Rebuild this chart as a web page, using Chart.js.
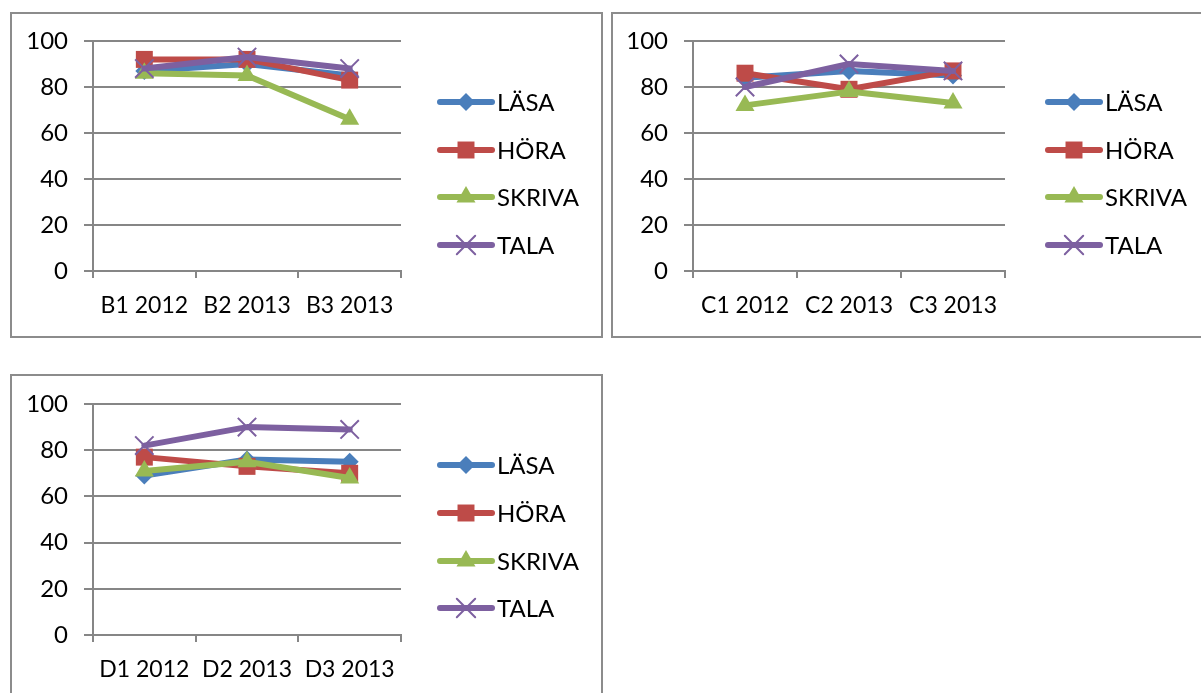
<!DOCTYPE html>
<html>
<head>
<meta charset="utf-8">
<script src="https://cdn.jsdelivr.net/npm/chart.js@4/dist/chart.umd.min.js"></script>
<style>
  html, body { margin: 0; padding: 0; background: #fff; width: 1201px; height: 693px; overflow: hidden; }
  .box { position: absolute; border: 2px solid #8c8c8c; box-sizing: border-box; }
  canvas { position: absolute; left: 0; top: 0; }
</style>
</head>
<body>
<div class="box" style="left:10px;top:12px;width:593px;height:326px;"></div>
<div class="box" style="left:611px;top:12px;width:600px;height:326px;"></div>
<div class="box" style="left:10px;top:374px;width:593px;height:330px;"></div>
<canvas id="c1" width="1201" height="693"></canvas>
<canvas id="c2" width="1201" height="693"></canvas>
<canvas id="c3" width="1201" height="693"></canvas>
<script>
// ---- data ----
const seriesNames = ['LÄSA', 'HÖRA', 'SKRIVA', 'TALA'];
const yTicks = [0, 20, 40, 60, 80, 100];

const catsB = ['B1 2012', 'B2 2013', 'B3 2013'];
const lasaB = [87, 90, 85];
const horaB = [92, 92, 83];
const skrivaB = [86, 85, 66];
const talaB = [88, 93, 88];

const catsC = ['C1 2012', 'C2 2013', 'C3 2013'];
const lasaC = [84, 87, 85];
const horaC = [86, 79, 87];
const skrivaC = [72, 78, 73];
const talaC = [80, 90, 87];

const catsD = ['D1 2012', 'D2 2013', 'D3 2013'];
const lasaD = [69, 76, 75];
const horaD = [77, 73, 70];
const skrivaD = [71, 75, 68];
const talaD = [82, 90, 89];

// ---- styles ----
const colors = ['#4a7ebb', '#be4b48', '#98b954', '#7d60a0'];
const pointStyles = ['rectRot', 'rect', 'triangle', 'crossRot'];
const pointRadii = [9, 12, 11, 13];
const gridColor = '#868686';
const FONT = 'Lato, "Open Sans", sans-serif';

function drawMarker(ctx, style, x, y, r, color) {
  ctx.save();
  ctx.fillStyle = color;
  ctx.strokeStyle = color;
  ctx.beginPath();
  if (style === 'rectRot') {
    ctx.moveTo(x - r, y); ctx.lineTo(x, y - r); ctx.lineTo(x + r, y); ctx.lineTo(x, y + r); ctx.closePath(); ctx.fill();
  } else if (style === 'rect') {
    const s = r * Math.SQRT1_2;
    ctx.rect(x - s, y - s, 2 * s, 2 * s); ctx.fill();
  } else if (style === 'triangle') {
    for (let i = 0; i < 3; i++) {
      const a = i * 2 * Math.PI / 3;
      const px = x + Math.sin(a) * r, py = y - Math.cos(a) * r;
      if (i === 0) ctx.moveTo(px, py); else ctx.lineTo(px, py);
    }
    ctx.closePath(); ctx.fill();
  } else if (style === 'crossRot') {
    const d = r * Math.SQRT1_2;
    ctx.lineWidth = 2;
    ctx.moveTo(x - d, y - d); ctx.lineTo(x + d, y + d);
    ctx.moveTo(x + d, y - d); ctx.lineTo(x - d, y + d);
    ctx.stroke();
  }
  ctx.restore();
}

const legendPlugin = {
  id: 'sideLegend',
  afterDraw(chart, args, opts) {
    const ctx = chart.ctx;
    ctx.save();
    chart.data.datasets.forEach((ds, i) => {
      const y = opts.ys[i];
      ctx.strokeStyle = ds.borderColor;
      ctx.lineWidth = 6;
      ctx.lineCap = 'round';
      ctx.beginPath();
      ctx.moveTo(opts.x0, y); ctx.lineTo(opts.x1, y); ctx.stroke();
      drawMarker(ctx, ds.pointStyle, (opts.x0 + opts.x1) / 2, y, ds.pointRadius, ds.borderColor);
      ctx.fillStyle = '#000';
      ctx.font = '24px ' + FONT;
      ctx.textBaseline = 'middle';
      ctx.textAlign = 'left';
      ctx.fillText(ds.label, opts.tx, y + 1);
    });
    ctx.restore();
  }
};

function makeChart(id, cats, seriesVals, area, legend) {
  const datasets = seriesVals.map((vals, i) => ({
    label: seriesNames[i],
    data: vals,
    borderColor: colors[i],
    backgroundColor: colors[i],
    borderWidth: 6,
    borderCapStyle: 'round',
    borderJoinStyle: 'round',
    pointStyle: pointStyles[i],
    pointRadius: pointRadii[i],
    pointHoverRadius: pointRadii[i],
    pointBackgroundColor: colors[i],
    pointBorderColor: colors[i],
    pointBorderWidth: i === 3 ? 2 : 0,
    tension: 0,
    order: 4 - i
  }));
  const yW = 80, xH = 55;
  return new Chart(document.getElementById(id), {
    type: 'line',
    data: { labels: cats, datasets },
    plugins: [legendPlugin],
    options: {
      responsive: false,
      animation: false,
      events: [],
      layout: {
        padding: {
          left: area.left - yW,
          right: 1201 - area.right,
          top: area.top,
          bottom: 693 - area.bottom - xH
        }
      },
      plugins: {
        legend: { display: false },
        tooltip: { enabled: false },
        sideLegend: legend
      },
      scales: {
        x: {
          type: 'category',
          offset: true,
          afterFit: s => { s.height = xH; },
          grid: { display: true, drawOnChartArea: false, offset: true, color: gridColor, lineWidth: 2, tickLength: 7 },
          border: { display: true, color: gridColor, width: 2 },
          ticks: { color: '#000', font: { family: FONT, size: 23 }, padding: 14, maxRotation: 0 }
        },
        y: {
          min: 0, max: 100,
          afterFit: s => { s.width = yW; },
          afterBuildTicks: s => { s.ticks = yTicks.map(v => ({ value: v })); },
          grid: { color: gridColor, lineWidth: 2, tickLength: 9 },
          border: { display: true, color: gridColor, width: 2 },
          ticks: { color: '#000', font: { family: FONT, size: 24 }, padding: 16 }
        }
      }
    }
  });
}

makeChart('c1', catsB, [lasaB, horaB, skrivaB, talaB],
  { left: 93, right: 401, top: 41, bottom: 271 },
  { x0: 440, x1: 492, tx: 497, ys: [102, 150, 197, 245] });
makeChart('c2', catsC, [lasaC, horaC, skrivaC, talaC],
  { left: 693, right: 1005, top: 41, bottom: 271 },
  { x0: 1048, x1: 1100, tx: 1105, ys: [102, 150, 197, 245] });
makeChart('c3', catsD, [lasaD, horaD, skrivaD, talaD],
  { left: 93, right: 401, top: 404, bottom: 635 },
  { x0: 440, x1: 492, tx: 497, ys: [465, 513, 561, 608] });
</script>
</body>
</html>
